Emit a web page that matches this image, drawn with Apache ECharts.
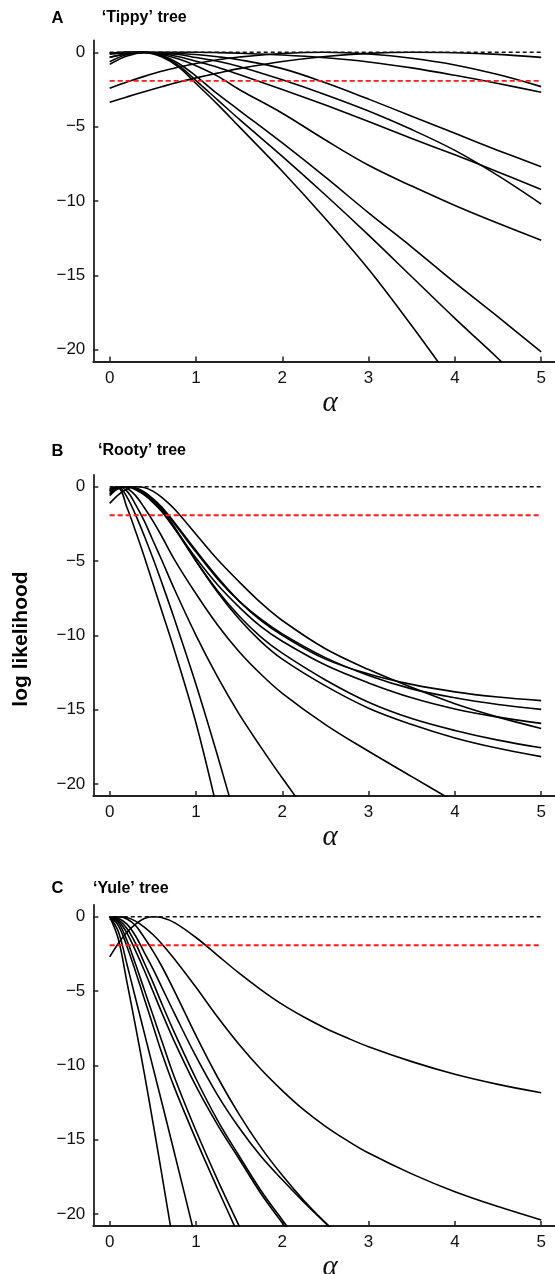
<!DOCTYPE html>
<html>
<head>
<meta charset="utf-8">
<script src="https://cdn.jsdelivr.net/npm/echarts@6/dist/echarts.min.js"></script>
<style>
html,body{margin:0;padding:0;background:#fff;}
#c{width:555px;height:1274px;}
</style>
</head>
<body>
<div id="c"></div>
<script>
// ---------- data ----------
const xTicks = [0, 1, 2, 3, 4, 5];
const yTicks = [0, -5, -10, -15, -20];
const refX = [0, 5];
const mleLevel = [0, 0];
const ciLevel = [-1.92, -1.92];

// Panel A: 'Tippy' tree
const alphaA = [0, 0.2, 0.4, 0.6, 0.8, 1.0, 1.25, 1.5, 2, 2.5, 3, 3.5, 4, 4.5, 5];
const tippy1 = [-0.81, -0.25, -0.02, -0.3, -1.0, -2.1, -3.5, -5.0, -8.0, -11.2, -14.6, -18.4, -22.4, -26.5, -30.8];
const tippy2 = [-0.63, -0.15, 0, -0.25, -0.9, -1.9, -3.2, -4.5, -7.0, -9.6, -12.3, -15.1, -17.9, -20.6, -23.4];
const tippy3 = [-0.34, -0.08, 0, -0.2, -0.75, -1.6, -2.8, -3.9, -6.1, -8.4, -10.8, -13.1, -15.5, -17.8, -20.16];
const tippy4 = [-0.13, -0.02, 0, -0.15, -0.45, -0.9, -1.6, -2.5, -4.1, -5.9, -7.6, -9.0, -10.3, -11.5, -12.64];
const tippy5 = [-0.05, 0, 0, -0.05, -0.15, -0.35, -0.6, -0.95, -1.85, -2.85, -3.95, -5.2, -6.6, -8.3, -10.21];
const tippy6 = [-0.05, -0.01, 0, -0.1, -0.3, -0.6, -1.0, -1.5, -2.5, -3.55, -4.65, -5.8, -6.9, -8.05, -9.23];
const tippy7 = [-0.05, 0, 0, -0.02, -0.08, -0.15, -0.3, -0.5, -1.1, -2.05, -3.15, -4.3, -5.45, -6.6, -7.7];
const tippy8 = [-0.34, -0.12, -0.03, 0, 0, 0, -0.02, -0.06, -0.18, -0.37, -0.65, -1.05, -1.55, -2.1, -2.69];
const tippy9 = [-2.42, -2.0, -1.62, -1.28, -1.0, -0.75, -0.5, -0.32, -0.08, 0, -0.12, -0.4, -0.85, -1.5, -2.31];
const tippy10 = [-3.36, -3.0, -2.65, -2.32, -2.0, -1.72, -1.4, -1.1, -0.62, -0.28, -0.07, 0, -0.03, -0.14, -0.34];

// Panel B: 'Rooty' tree
const alphaB = [0, 0.1, 0.2, 0.3, 0.4, 0.5, 0.6, 0.75, 1, 1.25, 1.5, 1.75, 2, 2.5, 3, 3.5, 4, 4.5, 5];
const rooty1 = [-0.25, -0.1, -1.4, -3.0, -4.7, -6.5, -8.3, -11.0, -15.9, -21.8, -28, -34, -40, -52, -64, -76, -88, -100, -112];
const rooty2 = [-0.3, 0, -0.7, -1.9, -3.3, -4.8, -6.4, -8.9, -13.3, -18.1, -23.2, -28.5, -34, -45, -56, -67, -78, -89, -100];
const rooty3 = [-0.2, 0, -0.3, -1.2, -2.3, -3.6, -4.9, -6.9, -10.0, -12.8, -15.3, -17.5, -19.6, -23.6, -27.4, -31, -34.6, -38, -41.5];
const rooty4 = [-0.1, 0, -0.1, -0.6, -1.4, -2.3, -3.3, -4.9, -7.2, -9.3, -11.1, -12.6, -13.9, -16.0, -17.8, -19.5, -21.2, -22.9, -24.6];
const rooty5 = [-0.5, -0.12, 0, -0.08, -0.35, -0.8, -1.35, -2.4, -4.3, -6.1, -7.7, -9.0, -10.0, -11.6, -12.6, -13.3, -13.8, -14.15, -14.39];
const rooty6 = [-0.3, -0.05, 0, -0.1, -0.4, -0.85, -1.45, -2.5, -4.4, -6.2, -7.7, -8.9, -9.9, -11.5, -12.7, -13.6, -14.2, -14.65, -14.98];
const rooty7 = [-1.12, -0.55, -0.15, 0, -0.05, -0.3, -0.7, -1.5, -3.2, -4.9, -6.4, -7.8, -9.0, -10.9, -12.3, -13.5, -14.6, -15.5, -16.26];
const rooty8 = [-0.15, 0, 0, -0.2, -0.55, -1.05, -1.65, -2.8, -4.8, -6.6, -8.1, -9.4, -10.4, -12.0, -13.2, -14.2, -14.95, -15.5, -15.92];
const rooty9 = [-0.4, -0.05, 0, -0.15, -0.5, -1.0, -1.6, -2.8, -5.0, -7.0, -8.7, -10.1, -11.2, -13.0, -14.5, -15.6, -16.4, -17.05, -17.56];
const rooty10 = [-0.6, -0.12, 0, -0.12, -0.45, -0.95, -1.55, -2.7, -5.0, -7.1, -8.9, -10.4, -11.6, -13.4, -14.9, -16.0, -16.9, -17.6, -18.16];

// Panel C: 'Yule' tree
const alphaC = [0, 0.1, 0.2, 0.3, 0.4, 0.5, 0.6, 0.75, 1, 1.25, 1.5, 1.75, 2, 2.25, 2.5, 2.75, 3, 3.5, 4, 4.5, 5];
const yule1 = [-2.7, -1.8, -1.05, -0.5, -0.12, 0, -0.06, -0.4, -1.4, -2.6, -3.8, -4.9, -5.9, -6.75, -7.5, -8.15, -8.75, -9.75, -10.6, -11.28, -11.84];
const yule2 = [-0.2, 0, -0.05, -0.3, -0.7, -1.2, -1.8, -2.85, -4.75, -6.75, -8.6, -10.25, -11.7, -13.0, -14.1, -15.05, -15.9, -17.3, -18.5, -19.5, -20.4];
const yule3 = [0, -1.5, -4.4, -7.4, -10.5, -13.8, -17.2, -22.4, -31, -40, -49, -58, -67, -76, -85, -94, -103, -121, -139, -157, -175];
const yule4 = [0, -1.0, -3.2, -5.5, -7.8, -10.1, -12.4, -15.9, -21.8, -28, -34, -40, -46, -52, -58, -64, -70, -82, -94, -106, -118];
const yule5 = [0, -0.6, -2.0, -3.7, -5.5, -7.3, -9.1, -11.5, -15.0, -18.3, -21.5, -24.8, -28.0, -31.2, -34.4, -37.5, -40.6, -46.7, -52.7, -58.6, -64.5];
const yule6 = [0, -0.4, -1.6, -3.2, -4.9, -6.6, -8.3, -10.8, -14.4, -17.7, -20.8, -23.8, -26.7, -29.5, -32.3, -35, -37.7, -43, -48, -53, -58];
const yule7 = [0, -0.3, -1.1, -2.3, -3.6, -5.0, -6.4, -8.4, -11.4, -14.0, -16.3, -18.6, -20.6, -22.5, -24.3, -26, -27.7, -31, -34, -37, -40];
const yule8 = [0, -0.2, -0.8, -1.8, -3.1, -4.4, -5.8, -7.8, -10.9, -13.7, -16.1, -18.4, -20.4, -22.3, -24.1, -25.8, -27.5, -30.8, -34, -37, -40];
const yule9 = [0, -0.1, -0.5, -1.3, -2.4, -3.5, -4.7, -6.5, -9.4, -12.0, -14.2, -16.1, -17.7, -19.2, -20.6, -21.9, -23.1, -25.4, -27.6, -29.7, -31.7];
const yule10 = [0, 0, -0.15, -0.6, -1.4, -2.3, -3.3, -5.0, -8.0, -10.8, -13.3, -15.5, -17.4, -19.1, -20.6, -22.0, -23.3, -25.8, -28.1, -30.3, -32.4];

const panels = [
  { letter: 'A', title: '\u2018Tippy\u2019 tree', titleX: 101.7, titleY: 18, top: 40.4,
    alpha: alphaA, curves: [tippy1, tippy2, tippy3, tippy4, tippy5, tippy6, tippy7, tippy8, tippy9, tippy10] },
  { letter: 'B', title: '\u2018Rooty\u2019 tree', titleX: 98, titleY: 451, top: 474.8,
    alpha: alphaB, curves: [rooty1, rooty2, rooty3, rooty4, rooty5, rooty6, rooty7, rooty8, rooty9, rooty10] },
  { letter: 'C', title: '\u2018Yule\u2019 tree', titleX: 93, titleY: 888.5, top: 904.8,
    alpha: alphaC, curves: [yule1, yule2, yule3, yule4, yule5, yule6, yule7, yule8, yule9, yule10] }
];

// ---------- chart ----------
const FONT = '"Liberation Sans", Arial, Helvetica, sans-serif';
const axisColor = '#222';
const chart = echarts.init(document.getElementById('c'), null, { renderer: 'canvas' });

const grids = [], xAxes = [], yAxes = [], series = [], graphics = [];
const fmtMinus = v => (v < 0 ? '\u2212' + Math.abs(v) : String(v));

panels.forEach((p, i) => {
  grids.push({ left: 93.3, right: 0, top: p.top, height: 321.1, containLabel: false, outerBoundsMode: 'none' });
  xAxes.push({
    type: 'value', gridIndex: i, min: -0.19, max: 5.16,
    axisLine: { show: true, onZero: false, lineStyle: { color: axisColor, width: 1.8 } },
    axisTick: { show: true, inside: true, length: 5, customValues: xTicks, lineStyle: { color: axisColor, width: 1.5 } },
    axisLabel: { show: true, customValues: xTicks, fontSize: 17, margin: 8, color: '#111', fontFamily: FONT },
    splitLine: { show: false },
    name: '\u03B1', nameLocation: 'middle', nameGap: 27,
    nameTextStyle: { fontSize: 29, fontStyle: 'italic', fontFamily: '"Liberation Serif", "DejaVu Serif", serif', color: '#111', padding: [0, 0, 0, 12] }
  });
  yAxes.push({
    type: 'value', gridIndex: i, min: -20.8, max: 0.8,
    axisLine: { show: true, onZero: false, lineStyle: { color: axisColor, width: 1.8 } },
    axisTick: { show: true, inside: true, length: 5, customValues: yTicks, lineStyle: { color: axisColor, width: 1.5 } },
    axisLabel: { show: true, customValues: yTicks, fontSize: 17, margin: 8, color: '#111', fontFamily: FONT, formatter: fmtMinus },
    splitLine: { show: false }
  });
  p.curves.forEach((ys, k) => {
    series.push({
      type: 'line', xAxisIndex: i, yAxisIndex: i, name: p.letter + (k + 1),
      data: p.alpha.map((a, j) => [a, ys[j]]),
      smooth: 0.35, showSymbol: false, clip: true, silent: true,
      lineStyle: { color: '#000', width: 1.6 }
    });
  });
  series.push({
    type: 'line', xAxisIndex: i, yAxisIndex: i, name: 'mle' + i,
    data: refX.map((a, j) => [a, mleLevel[j]]), showSymbol: false, silent: true, z: 5,
    lineStyle: { color: '#111', width: 1.4, type: [4, 3] }
  });
  series.push({
    type: 'line', xAxisIndex: i, yAxisIndex: i, name: 'ci' + i,
    data: refX.map((a, j) => [a, ciLevel[j]]), showSymbol: false, silent: true, z: 5,
    lineStyle: { color: '#ff1a1a', width: 1.8, type: [5, 3] }
  });
  graphics.push({ type: 'text', x: 51.5, y: p.titleY,
    style: { text: p.letter, font: 'bold 16.5px ' + FONT, fill: '#000', verticalAlign: 'middle', textVerticalAlign: 'middle' } });
  graphics.push({ type: 'text', x: p.titleX, y: p.titleY,
    style: { text: p.title, font: 'bold 16px ' + FONT, fill: '#000', verticalAlign: 'middle', textVerticalAlign: 'middle' } });
});

graphics.push({ type: 'text', x: 21, y: 639, rotation: Math.PI / 2,
  style: { text: 'log likelihood', font: 'bold 21px ' + FONT, fill: '#000',
    align: 'center', verticalAlign: 'middle', textAlign: 'center', textVerticalAlign: 'middle' } });

chart.setOption({
  animation: false,
  backgroundColor: '#fff',
  grid: grids, xAxis: xAxes, yAxis: yAxes, series: series, graphic: graphics
});
</script>
</body>
</html>
